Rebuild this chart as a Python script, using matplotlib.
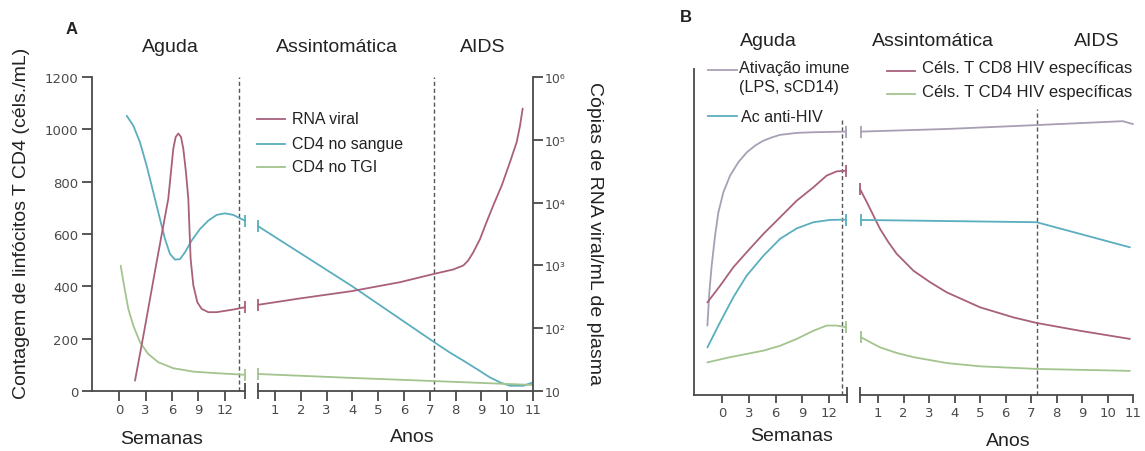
import numpy as np
import matplotlib.pyplot as plt
from matplotlib.lines import Line2D
from matplotlib.ticker import NullLocator

plt.rcParams['font.family'] = ['Liberation Sans', 'DejaVu Sans']

# ---------------- data ----------------
# Panel A, weeks part (CD4 cells/mL, RNA copies/mL)
a_rna_wk = [1.81, 2.83, 4.19, 5.58, 6.15, 6.42, 6.72, 7.02, 7.28, 7.58, 7.85, 8.11, 8.42,
            8.87, 9.36, 10.11, 11.06, 12.94, 14.27]
a_rna_wv = [14.6, 86, 998, 11500, 72400, 111000, 126000, 111000, 72400, 30700, 11500, 1270, 479,
            259, 203, 180, 180, 198, 216]
a_blue_wk = [0.87, 1.62, 2.38, 3.13, 3.89, 4.64, 5.21, 5.77, 6.34, 6.91, 7.47, 8.23, 9.17,
             10.11, 11.06, 12.0, 12.94, 13.7, 14.27]
a_blue_wv = [1052, 1014, 950, 861, 759, 657, 581, 524, 502, 504, 530, 575, 619,
             651, 673, 679, 673, 660, 651]
a_green_wk = [0.19, 0.57, 1.06, 1.62, 2.38, 3.32, 4.45, 6.15, 8.42, 11.06, 14.27]
a_green_wv = [479, 403, 313, 250, 186, 141, 110, 87, 74, 68, 62]
# Panel A, years part
a_rna_yr = [0.35, 1.97, 3.97, 5.85, 7.18, 7.91, 8.30, 8.49, 8.69, 8.95, 9.20, 9.46, 9.79,
            10.11, 10.37, 10.50, 10.60]
a_rna_yv = [236, 298, 389, 541, 735, 861, 998, 1200, 1630, 2650, 4900, 9020, 18800,
            44400, 92500, 170000, 315000]
a_blue_yr = [0.34, 3.98, 7.18, 7.76, 8.30, 8.82, 9.33, 9.72, 10.11, 10.63, 10.99]
a_blue_yv = [630, 401, 186, 148, 116, 84, 52, 33, 20, 20, 33]
a_green_yr = [0.34, 3.98, 7.16, 11.0]
a_green_yv = [65, 50, 38, 23]
a_labels = ['RNA viral', 'CD4 no sangue', 'CD4 no TGI']

# Panel B, weeks part (arbitrary units 0-100)
b_act_wk = [-1.64, -1.42, -1.16, -0.78, -0.41, 0.15, 0.90, 1.83, 2.76, 3.70, 4.63, 5.56,
            6.50, 8.36, 10.23, 13.85]
b_act_wv = [21.3, 31.5, 39.7, 48.9, 56.0, 62.2, 67.3, 71.4, 74.4, 76.5, 78.0, 79.0,
            79.8, 80.4, 80.6, 80.8]
b_cd8_wk = [-1.64, -0.22, 1.27, 2.76, 4.63, 6.50, 8.36, 10.23, 11.72, 12.84, 13.85]
b_cd8_wv = [28.4, 33.5, 39.2, 43.8, 49.4, 54.5, 59.6, 63.7, 67.3, 68.6, 68.8]
b_ac_wk = [-1.64, -0.22, 1.27, 2.76, 4.63, 6.50, 8.36, 10.23, 12.1, 13.85]
b_ac_wv = [14.6, 22.3, 30.0, 36.6, 42.7, 47.9, 51.1, 53.0, 53.7, 53.8]
b_cd4_wk = [-1.64, 0.90, 4.63, 6.50, 8.36, 10.23, 11.72, 12.84, 13.85]
b_cd4_wv = [10.0, 11.6, 13.6, 15.1, 17.2, 19.7, 21.3, 21.3, 20.8]
# Panel B, years part
b_act_yr = [0.33, 3.69, 7.22, 8.92, 10.6, 11.0]
b_act_yv = [80.8, 81.6, 82.8, 83.4, 84.0, 83.1]
b_cd8_yr = [0.29, 0.56, 0.82, 1.08, 1.41, 1.73, 2.39, 3.04, 3.69, 5.0, 6.31, 7.22, 8.92, 10.88]
b_cd8_yv = [63.2, 59.1, 55.0, 50.9, 46.8, 43.3, 38.1, 34.6, 31.5, 26.9, 23.8, 22.1, 19.7, 17.2]
b_ac_yr = [0.33, 7.22, 10.88]
b_ac_yv = [53.7, 53.0, 45.3]
b_cd4_yr = [0.33, 0.69, 1.08, 1.73, 2.39, 3.69, 5.0, 7.22, 10.88]
b_cd4_yv = [17.7, 16.2, 14.6, 12.9, 11.6, 9.8, 8.8, 8.0, 7.4]
b_labels = ['Ativação imune\n(LPS, sCD14)', 'Ac anti-HIV',
            'Céls. T CD8 HIV específicas', 'Céls. T CD4 HIV específicas']

weeks_ticks = [0, 3, 6, 9, 12]
years_ticks = list(range(1, 12))
cd4_ticks = [0, 200, 400, 600, 800, 1000, 1200]
rna_ticks = [10, 1e2, 1e3, 1e4, 1e5, 1e6]
rna_tick_labels = ['10', '10²', '10³', '10⁴', '10⁵', '10⁶']
phases = ['Aguda', 'Assintomática', 'AIDS']

# ---------------- style ----------------
c_rna = '#a8607c'
c_blue = '#5aaebe'
c_green = '#a3c48e'
c_grey = '#a99fb5'
axc = '#4a4a4a'
txt = '#222222'
LW = 1.3

W, H = 1145, 452
fig = plt.figure(figsize=(W / 100, H / 100), dpi=100)


def box(l, t, r, b):
    return [l / W, 1 - b / H, (r - l) / W, (b - t) / H]


def ftext(x, y, s, **kw):
    fig.text(x / W, 1 - y / H, s, color=txt, **kw)


def fline(x0, x1, y, c):
    fig.add_artist(Line2D([x0 / W, x1 / W], [1 - y / H, 1 - y / H], color=c, lw=LW))


def seg(ax, x, y, c, end):
    ax.plot(x, y, color=c, lw=LW, clip_on=False, solid_capstyle='round', solid_joinstyle='round')
    i = -1 if end == 'right' else 0
    ax.plot([x[i]], [y[i]], marker='|', ms=8, mew=LW, color=c, clip_on=False)


def style(ax, left=False):
    for side in ['top', 'left', 'right']:
        ax.spines[side].set_visible(False)
    ax.spines['bottom'].set_color(axc)
    ax.spines['bottom'].set_linewidth(LW)
    if left:
        ax.spines['left'].set_visible(True)
        ax.spines['left'].set_color(axc)
        ax.spines['left'].set_linewidth(LW)
    ax.patch.set_alpha(0)
    ax.tick_params(colors=axc, width=LW, labelsize=9.5, labelfontfamily='DejaVu Sans')


def blank(ax):
    for side in ['top', 'left', 'right', 'bottom']:
        ax.spines[side].set_visible(False)
    ax.set_yticks([])
    ax.yaxis.set_minor_locator(NullLocator())
    ax.patch.set_alpha(0)


dash = dict(color='#555555', lw=1.0, ls=(0, (3, 2)))

# ---------------- Panel A ----------------
axA1 = fig.add_axes(box(92, 78, 245, 392))
style(axA1, left=True)
axA1.set_xlim(-3.06, 14.27)
axA1.set_ylim(0, 1200)
axA1.set_xticks(weeks_ticks)
axA1.set_yticks(cd4_ticks)
axA1.tick_params(axis='x', length=7, pad=1.5)
axA1.tick_params(axis='y', length=7, pad=3)
axA1.axvline(13.6, **dash)
axA1r = axA1.twinx()
axA1r.set_yscale('log')
axA1r.set_ylim(10, 1e6)
blank(axA1r)
seg(axA1, a_blue_wk, a_blue_wv, c_blue, 'right')
seg(axA1, a_green_wk, a_green_wv, c_green, 'right')
seg(axA1r, a_rna_wk, a_rna_wv, c_rna, 'right')
axA1.plot([14.27], [0], marker='|', ms=12, mew=LW, color=axc, clip_on=False)

axA2 = fig.add_axes(box(258, 78, 533, 392))
style(axA2)
axA2.set_xlim(0.34, 11.0)
axA2.set_ylim(0, 1200)
axA2.set_xticks(years_ticks)
axA2.set_yticks([])
axA2.tick_params(axis='x', length=7, pad=1.5)
axA2.axvline(7.17, **dash)
axA2r = axA2.twinx()
axA2r.set_yscale('log')
axA2r.set_ylim(10, 1e6)
for side in ['top', 'left', 'bottom']:
    axA2r.spines[side].set_visible(False)
axA2r.spines['right'].set_color(axc)
axA2r.spines['right'].set_linewidth(LW)
axA2r.set_yticks(rna_ticks, rna_tick_labels)
axA2r.yaxis.set_minor_locator(NullLocator())
axA2r.tick_params(colors=axc, width=LW, length=7, pad=1.5, labelsize=9,
                  labelfontfamily='DejaVu Sans')
seg(axA2, a_blue_yr, a_blue_yv, c_blue, 'left')
seg(axA2, a_green_yr, a_green_yv, c_green, 'left')
seg(axA2r, a_rna_yr, a_rna_yv, c_rna, 'left')
axA2.plot([0.34], [0], marker='|', ms=12, mew=LW, color=axc, clip_on=False)

ftext(72, 30, 'A', fontsize=12, fontweight='bold', ha='center', va='center')
for name, x in zip(phases, [170, 337, 483]):
    ftext(x, 48, name, fontsize=14, ha='center', va='center')
ftext(22, 223, 'Contagem de linfócitos T CD4 (céls./mL)', fontsize=14, rotation=90,
      ha='center', va='center')
ftext(594, 234, 'Cópias de RNA viral/mL de plasma', fontsize=14, rotation=-90,
      ha='center', va='center')
ftext(162, 440, 'Semanas', fontsize=14, ha='center', va='center')
ftext(412, 438, 'Anos', fontsize=14, ha='center', va='center')
for lab, c, y in zip(a_labels, [c_rna, c_blue, c_green], [120, 145, 168]):
    fline(257, 285, y, c)
    ftext(292, y, lab, fontsize=11.5, ha='left', va='center')

# ---------------- Panel B ----------------
axB1 = fig.add_axes(box(694, 70, 847, 396))
style(axB1, left=True)
axB1.set_xlim(-3.14, 14.0)
axB1.set_ylim(0, 100)
axB1.set_xticks(weeks_ticks)
axB1.set_yticks([])
axB1.tick_params(axis='x', length=6, pad=2)
axB1.axvline(13.4, ymax=0.847, **dash)
seg(axB1, b_act_wk, b_act_wv, c_grey, 'right')
seg(axB1, b_cd8_wk, b_cd8_wv, c_rna, 'right')
seg(axB1, b_ac_wk, b_ac_wv, c_blue, 'right')
seg(axB1, b_cd4_wk, b_cd4_wv, c_green, 'right')
axB1.plot([14.0], [0], marker='|', ms=12, mew=LW, color=axc, clip_on=False)

axB2 = fig.add_axes(box(860, 70, 1133, 396))
style(axB2)
axB2.set_xlim(0.29, 11.0)
axB2.set_ylim(0, 100)
axB2.set_xticks(years_ticks)
axB2.set_yticks([])
axB2.tick_params(axis='x', length=6, pad=2)
axB2.axvline(7.24, ymax=0.877, **dash)
seg(axB2, b_act_yr, b_act_yv, c_grey, 'left')
seg(axB2, b_cd8_yr, b_cd8_yv, c_rna, 'left')
seg(axB2, b_ac_yr, b_ac_yv, c_blue, 'left')
seg(axB2, b_cd4_yr, b_cd4_yv, c_green, 'left')
axB2.plot([0.29], [0], marker='|', ms=12, mew=LW, color=axc, clip_on=False)

ftext(686, 18, 'B', fontsize=12, fontweight='bold', ha='center', va='center')
for name, x in zip(phases, [768, 933, 1097]):
    ftext(x, 42, name, fontsize=14, ha='center', va='center')
ftext(792, 437, 'Semanas', fontsize=14, ha='center', va='center')
ftext(1008, 442, 'Anos', fontsize=14, ha='center', va='center')

fline(708, 737, 71, c_grey)
ftext(739, 61, b_labels[0], fontsize=11.6, ha='left', va='top', linespacing=1.3)
fline(708, 737, 117, c_blue)
ftext(741, 117, b_labels[1], fontsize=11.6, ha='left', va='center')
fline(887, 915, 72, c_rna)
ftext(922, 68, b_labels[2], fontsize=12, ha='left', va='center')
fline(887, 915, 95, c_green)
ftext(922, 92, b_labels[3], fontsize=12, ha='left', va='center')

fig.savefig('out.png', dpi=100)
